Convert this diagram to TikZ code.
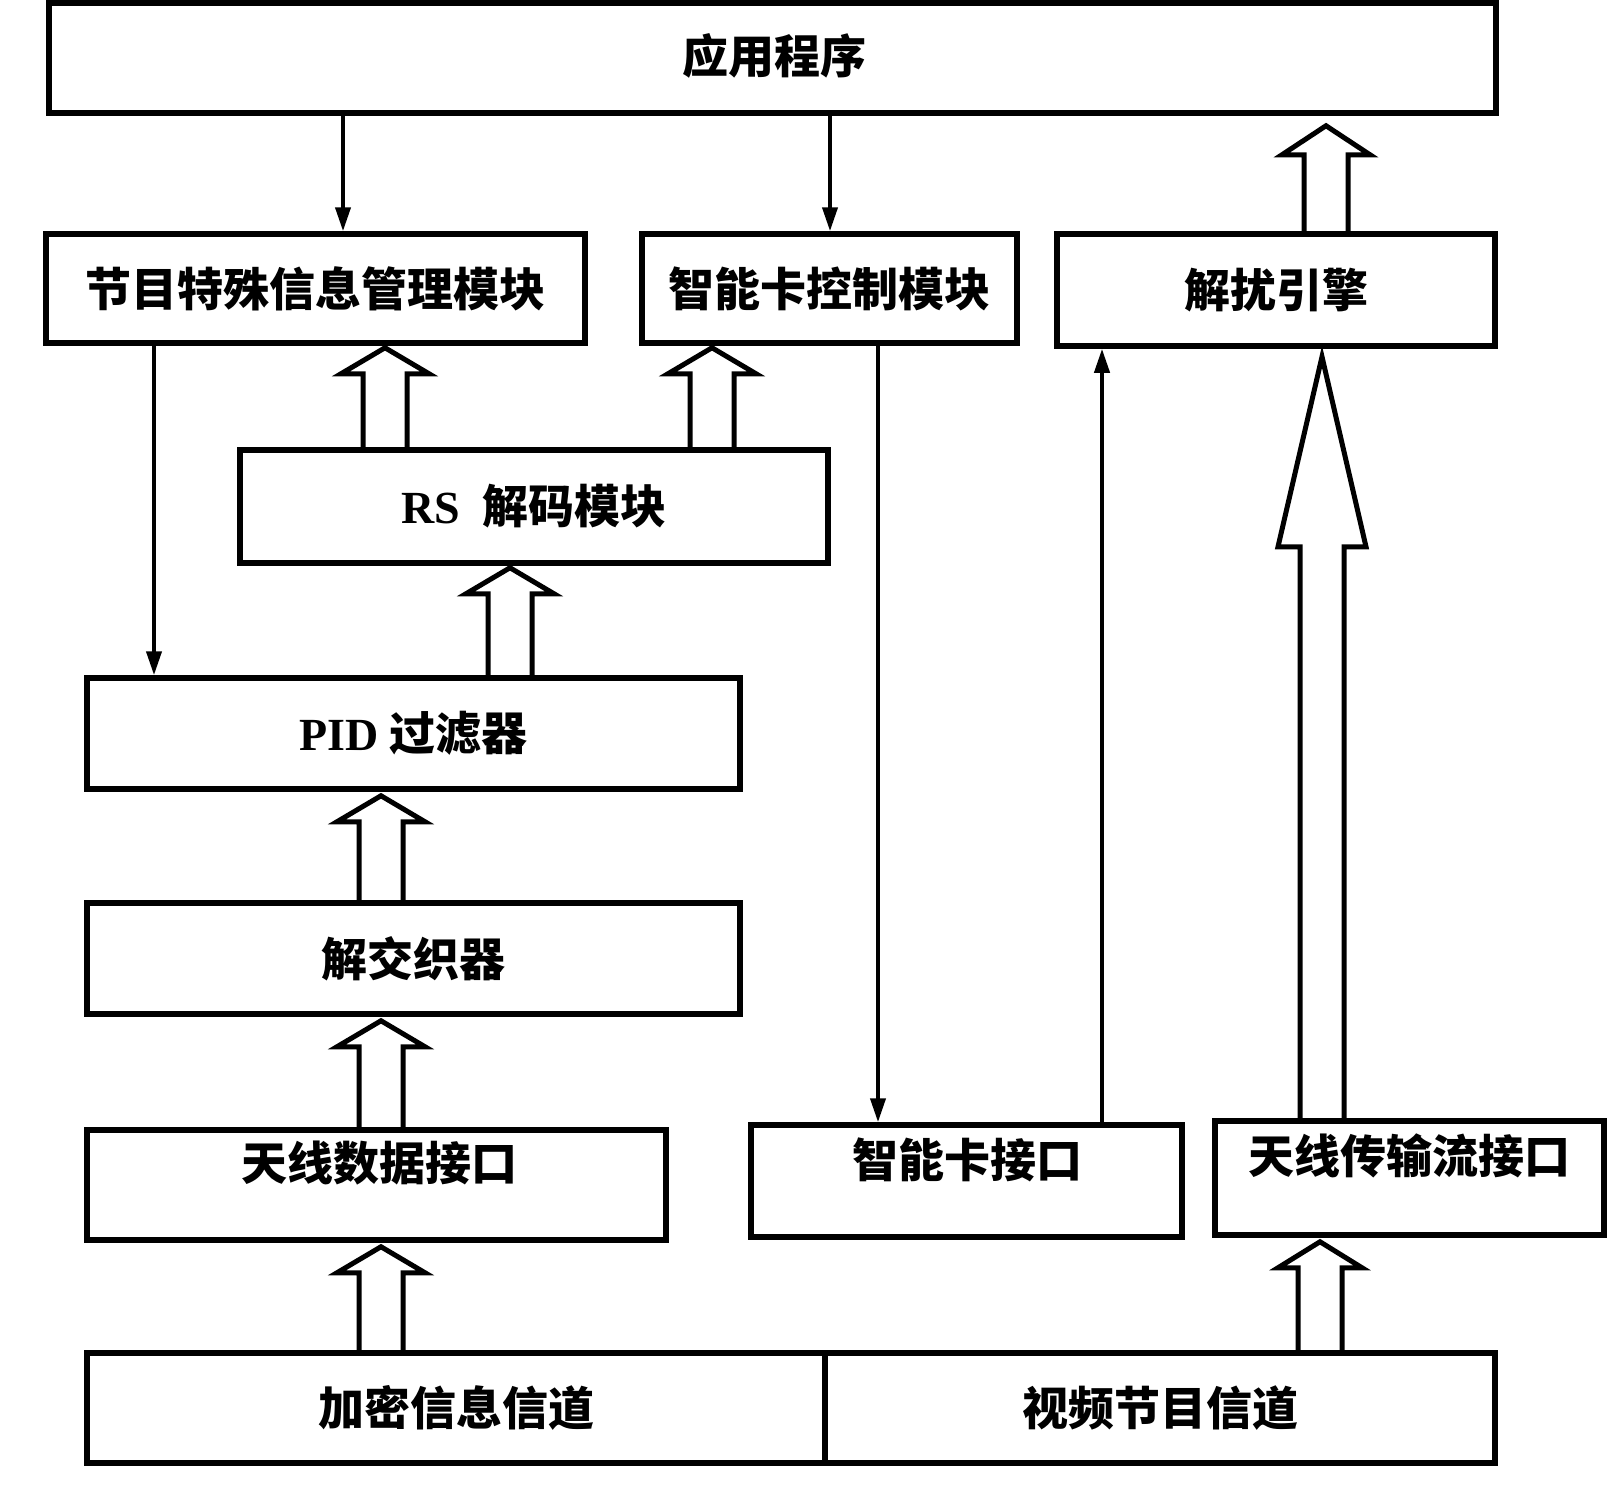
\documentclass[tikz,border=0pt]{standalone}
\usepackage{fontspec}
\usetikzlibrary{arrows.meta,calc}
\newfontfamily\cjk{Noto Sans CJK SC}
\newfontfamily\lat{Liberation Serif}
\tikzset{
  box/.style={draw, line width=5.5pt, rectangle, inner sep=0pt},
  lbl/.style={font=\cjk\bfseries\fontsize{46}{50}\selectfont, inner sep=0pt},
  conn/.style={line width=4pt, -{Triangle[length=24pt,width=15pt]}},
  fat/.style={line width=5pt, line join=miter},
}
% #1 x, #2 lower node, #3 upper node, #4 head length, #5 tip gap, #6 name, #7 half head width
\newcommand\fatup[7]{%
  \path (#1,0) coordinate (#6-x);
  \coordinate (#6-b) at (#6-x |- #2.north);
  \coordinate (#6-t) at ($(#6-x |- #3.south)+(0,#5)$);
  \draw[fat] ([xshift=-22pt]#6-b) -- ([xshift=-22pt,yshift=-#4pt]#6-t)
     -- ([xshift=-#7pt,yshift=-#4pt]#6-t) -- (#6-t)
     -- ([xshift=#7pt,yshift=-#4pt]#6-t) -- ([xshift=22pt,yshift=-#4pt]#6-t)
     -- ([xshift=22pt]#6-b);
}
\begin{document}
\begin{tikzpicture}[x=1pt,y=-1pt]
\fill[white] (0,0) rectangle (1607,1500);
\useasboundingbox (0,0) rectangle (1607,1500);

% boxes
\node[box, minimum width=1447pt, minimum height=110pt] (app) at (772.5,58) {};
\node[lbl] (app-t) at (774,56) {应用程序};
\node[box, minimum width=539pt, minimum height=109pt, lbl] (prog) at (315.5,288.5) {节目特殊信息管理模块};
\node[box, minimum width=375pt, minimum height=109pt, lbl] (scc) at (829.5,288.5) {智能卡控制模块};
\node[box, minimum width=438pt, minimum height=112pt, lbl] (desc) at (1276,290) {解扰引擎};
\node[box, minimum width=588pt, minimum height=113pt, lbl] (rs) at (534,506.5) {{\lat\bfseries RS}\hspace{22pt}解码模块};
\node[box, minimum width=653pt, minimum height=111pt, lbl] (pid) at (413.5,733.5) {{\lat\bfseries PID} 过滤器};
\node[box, minimum width=653pt, minimum height=111pt, lbl] (deint) at (413.5,958.5) {解交织器};
\node[box, minimum width=579pt, minimum height=110pt] (ant) at (376.5,1185) {};
\node[lbl] (ant-t) at (379,1163) {天线数据接口};
\node[box, minimum width=431pt, minimum height=112pt] (sci) at (966.5,1181) {};
\node[lbl] (sci-t) at (967,1160) {智能卡接口};
\node[box, minimum width=389pt, minimum height=114pt] (ats) at (1409.5,1178) {};
\node[lbl] (ats-t) at (1409,1156) {天线传输流接口};
\node[box, minimum width=738pt, minimum height=110pt, lbl] (enc) at (456,1408) {加密信息信道};
\node[box, minimum width=670pt, minimum height=110pt, lbl] (vid) at (1160,1408) {视频节目信道};

% thin connectors
\path (343,0) coordinate (x1) (830,0) coordinate (x2) (154,0) coordinate (x3)
      (878,0) coordinate (x4) (1102,0) coordinate (x5);
\draw[conn] (x1 |- app.south) -- (x1 |- prog.north);
\draw[conn] (x2 |- app.south) -- (x2 |- scc.north);
\draw[conn] (x3 |- prog.south) -- (x3 |- pid.north);
\draw[conn] (x4 |- scc.south) -- (x4 |- sci.north);
\draw[conn] (x5 |- sci.north) -- (x5 |- desc.south);

% hollow arrows
\fatup{1326}{desc}{app}{29}{10}{fa1}{44}
\fatup{385}{rs}{prog}{26}{2}{fa2}{44}
\fatup{712}{rs}{scc}{26}{2}{fa3}{44}
\fatup{510}{pid}{rs}{26}{2}{fa4}{44}
\fatup{381}{deint}{pid}{26}{4}{fa5}{44}
\fatup{381}{ant}{deint}{26}{4}{fa6}{44}
\fatup{381}{enc}{ant}{26}{4}{fa7}{44}
\fatup{1322}{ats}{desc}{190}{8}{fa8}{44}
\fatup{1320}{vid}{ats}{26}{4}{fa9}{42}
\end{tikzpicture}
\end{document}
